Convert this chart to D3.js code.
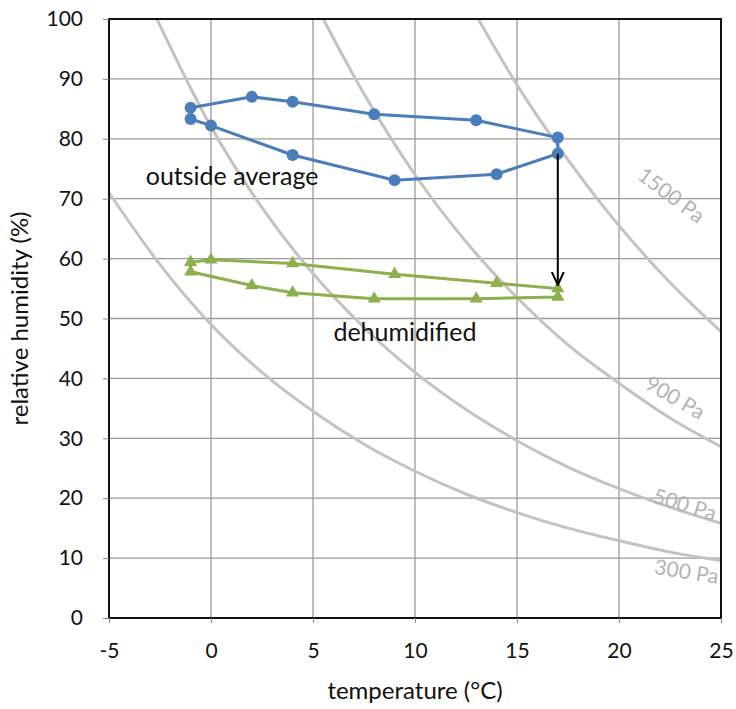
<!DOCTYPE html>
<html>
<head>
<meta charset="utf-8">
<script src="https://cdn.jsdelivr.net/npm/d3@7"></script>
<style>
  body { margin: 0; background: #fff; }
  svg text { font-family: Lato, "Open Sans", sans-serif; }
</style>
</head>
<body>
<div id="chart"></div>
<script>
// outside average (closed loop)
const outsideT  = [-1, 2, 4, 8, 13, 17, 17, 14, 9, 4, 0, -1];
const outsideRH = [85.2, 87, 86.2, 84.1, 83.1, 80.2, 77.5, 74.1, 73.1, 77.3, 82.2, 83.3];

// dehumidified (closed loop)
const dehumT  = [-1, 0, 4, 9, 14, 17, 17, 13, 8, 4, 2, -1];
const dehumRH = [59.4, 59.8, 59.2, 57.4, 55.9, 55.0, 53.6, 53.3, 53.3, 54.3, 55.5, 57.8];

// constant vapour pressure lines
const p300T  = [-5, -2.5, 0, 2.5, 5, 7.5, 10, 12.5, 15, 17.5, 20, 22.5, 25];
const p300RH = [71, 59, 49, 41, 34.5, 29, 24.5, 20.7, 17.6, 15, 12.9, 11, 9.6];
const p500T  = [-2.65, 0, 2.5, 5, 7.5, 10, 12.5, 15, 17.5, 20, 22.5, 25];
const p500RH = [100, 82, 68.5, 57.5, 48.5, 41, 34.8, 29.6, 25.2, 21.6, 18.5, 15.8];
const p900T  = [5.5, 7.5, 10, 12.5, 15, 17.5, 20, 22.5, 25];
const p900RH = [100, 87.5, 74, 62.8, 53.5, 45.6, 39.2, 33.4, 28.6];
const p1500T  = [13.1, 15, 17.5, 20, 22.5, 25];
const p1500RH = [100, 89, 76.5, 65.5, 56, 47.8];

const xTicks = [-5, 0, 5, 10, 15, 20, 25];
const yTicks = [0, 10, 20, 30, 40, 50, 60, 70, 80, 90, 100];

const margin = { top: 19, right: 15, bottom: 91, left: 109 };
const W = 736, H = 709;
const width = W - margin.left - margin.right;
const height = H - margin.top - margin.bottom;

const svg = d3.select("#chart").append("svg")
    .attr("width", W).attr("height", H);
const g = svg.append("g").attr("transform", `translate(${margin.left},${margin.top})`);

const x = d3.scaleLinear().domain([-5, 25]).range([0, width]);
const y = d3.scaleLinear().domain([0, 100]).range([height, 0]);

// grid
g.append("g").selectAll("line").data(xTicks).join("line")
    .attr("x1", d => x(d)).attr("x2", d => x(d))
    .attr("y1", 0).attr("y2", height)
    .attr("stroke", "#9a9a9a").attr("stroke-width", 1.3);
g.append("g").selectAll("line").data(yTicks).join("line")
    .attr("x1", 0).attr("x2", width)
    .attr("y1", d => y(d)).attr("y2", d => y(d))
    .attr("stroke", "#9a9a9a").attr("stroke-width", 1.3);

// clip for curves
g.append("clipPath").attr("id", "plot").append("rect")
    .attr("width", width).attr("height", height);

const zip = (a, b) => a.map((v, i) => [v, b[i]]);
const curves = [
  { T: p300T, RH: p300RH, label: "300 Pa", at: [23.3, 7.4], rot: 9 },
  { T: p500T, RH: p500RH, label: "500 Pa", at: [23.2, 18.6], rot: 17 },
  { T: p900T, RH: p900RH, label: "900 Pa", at: [22.7, 36.5], rot: 30 },
  { T: p1500T, RH: p1500RH, label: "1500 Pa", at: [22.5, 70.3], rot: 37 }
];
const curveLine = d3.line().x(d => x(d[0])).y(d => y(d[1])).curve(d3.curveMonotoneX);
g.append("g").attr("clip-path", "url(#plot)").selectAll("path").data(curves).join("path")
    .attr("d", d => curveLine(zip(d.T, d.RH)))
    .attr("fill", "none").attr("stroke", "#c3c3c3").attr("stroke-width", 3);

g.append("g").selectAll("text").data(curves).join("text")
    .attr("transform", d => `translate(${x(d.at[0])},${y(d.at[1])}) rotate(${d.rot})`)
    .attr("text-anchor", "middle").attr("dominant-baseline", "middle")
    .attr("fill", "#b3b3b3").attr("font-size", 21)
    .text(d => d.label);

// frame and axes
g.append("rect").attr("width", width).attr("height", height)
    .attr("fill", "none").attr("stroke", "#111").attr("stroke-width", 2);

const xAxis = g.append("g").attr("transform", `translate(0,${height})`)
    .call(d3.axisBottom(x).tickValues(xTicks).tickSize(5).tickPadding(20).tickFormat(d => String(d)));
const yAxis = g.append("g")
    .call(d3.axisLeft(y).tickValues(yTicks).tickSize(6).tickPadding(20));
[xAxis, yAxis].forEach(a => {
  a.select(".domain").remove();
  a.selectAll("line").attr("stroke", "#888");
  a.selectAll("text").attr("font-size", 21).attr("fill", "#111");
});

// arrow head
const defs = svg.append("defs");
defs.append("marker").attr("id", "arrow")
    .attr("viewBox", "0 0 14 14").attr("refX", 13).attr("refY", 7)
    .attr("markerWidth", 14).attr("markerHeight", 14).attr("markerUnits", "userSpaceOnUse")
    .attr("orient", "auto")
    .append("path").attr("d", "M0,1 L13,7 L0,13")
    .attr("fill", "none").attr("stroke", "#000").attr("stroke-width", 2);

// series
const loop = d3.line().x(d => x(d[0])).y(d => y(d[1])).curve(d3.curveLinearClosed);

g.append("path").datum(zip(outsideT, outsideRH))
    .attr("d", loop).attr("fill", "none")
    .attr("stroke", "#4a7ebb").attr("stroke-width", 3);
g.selectAll(".dot").data(zip(outsideT, outsideRH)).join("circle")
    .attr("class", "dot")
    .attr("cx", d => x(d[0])).attr("cy", d => y(d[1])).attr("r", 6)
    .attr("fill", "#4a7ebb");

g.append("path").datum(zip(dehumT, dehumRH))
    .attr("d", loop).attr("fill", "none")
    .attr("stroke", "#8cb04c").attr("stroke-width", 3);
const tri = d3.symbol().type(d3.symbolTriangle).size(75);
g.selectAll(".tri").data(zip(dehumT, dehumRH)).join("path")
    .attr("class", "tri")
    .attr("transform", d => `translate(${x(d[0])},${y(d[1])})`)
    .attr("d", tri).attr("fill", "#8cb04c");

// vertical arrow from outside to dehumidified at 17 °C
g.append("line")
    .attr("x1", x(17)).attr("x2", x(17))
    .attr("y1", y(77.5)).attr("y2", y(55.6))
    .attr("stroke", "#000").attr("stroke-width", 2)
    .attr("marker-end", "url(#arrow)");

// annotations
g.append("text").attr("x", x(-3.2)).attr("y", y(72.3))
    .attr("font-size", 25).attr("fill", "#111").text("outside average");
g.append("text").attr("x", x(6)).attr("y", y(46.3))
    .attr("font-size", 25).attr("fill", "#111").text("dehumidified");

// axis titles
svg.append("text").attr("x", margin.left + x(10)).attr("y", 699)
    .attr("text-anchor", "middle").attr("font-size", 24).attr("fill", "#111")
    .text("temperature (°C)");
svg.append("text")
    .attr("transform", `translate(28,${margin.top + y(50)}) rotate(-90)`)
    .attr("text-anchor", "middle").attr("font-size", 24).attr("fill", "#111")
    .text("relative humidity (%)");
</script>
</body>
</html>
